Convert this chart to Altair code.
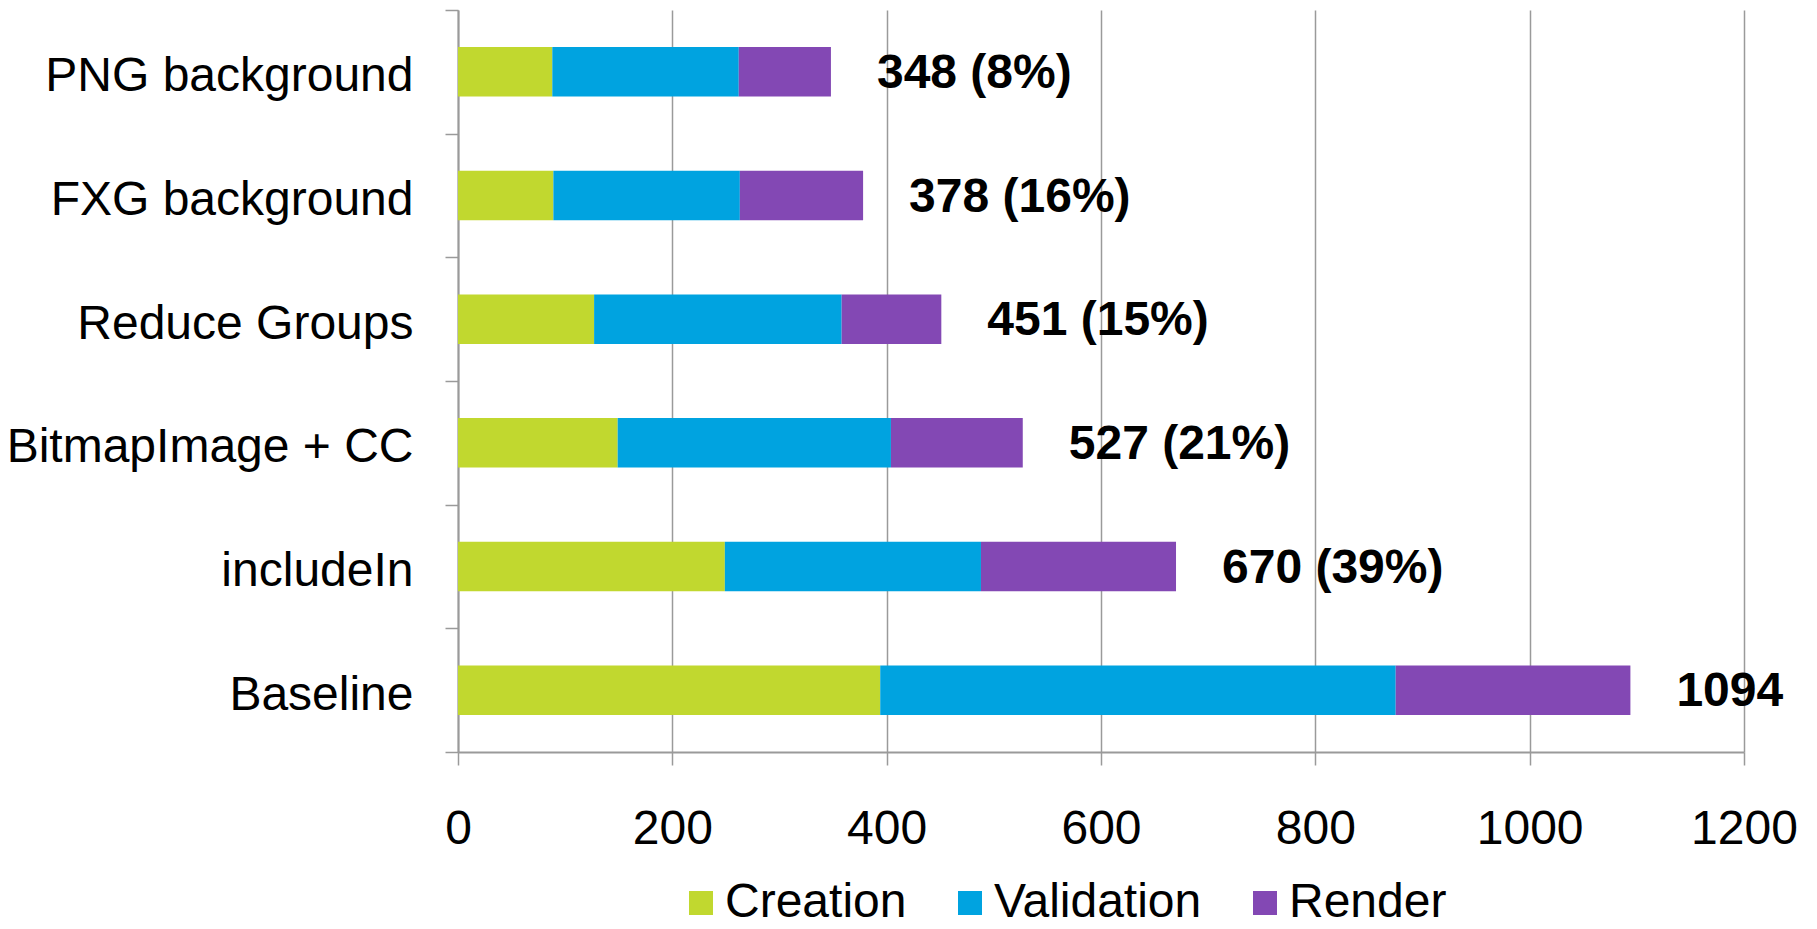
import altair as alt
import pandas as pd

categories = ["PNG background", "FXG background", "Reduce Groups",
              "BitmapImage + CC", "includeIn", "Baseline"]
phases = ["Creation", "Validation", "Render"]
creation = [88, 89, 127, 149, 249, 394]
validation = [174, 174, 231, 255, 239, 481]
render = [86, 115, 93, 123, 182, 219]
totals = [348, 378, 451, 527, 670, 1094]
total_labels = ["348 (8%)", "378 (16%)", "451 (15%)", "527 (21%)", "670 (39%)", "1094"]
x_ticks = [0, 200, 400, 600, 800, 1000, 1200]
colors = ["#C1D82F", "#00A3E0", "#8348B4"]

rows = []
for i, c in enumerate(categories):
    for j, (p, vals) in enumerate(zip(phases, [creation, validation, render])):
        rows.append({"category": c, "phase": p, "value": vals[i], "ord": j})
df = pd.DataFrame(rows)
df_tot = pd.DataFrame({"category": categories, "total": totals, "label": total_labels})

FONT = "Liberation Sans"
GRID = "#9a9a9a"

y_enc = alt.Y("category:N", sort=categories,
              scale=alt.Scale(paddingInner=0, paddingOuter=0),
              axis=alt.Axis(title=None, tickBand="extent", tickSize=13, tickWidth=1.5,
                            tickColor=GRID, domainColor=GRID, domainWidth=2,
                            labelFontSize=48, labelFont=FONT, labelColor="black",
                            labelPadding=32, labelOffset=5, labelLimit=600, grid=False))

x_scale = alt.Scale(domain=[0, 1200], nice=False)

bars = alt.Chart(df).mark_bar(height={"band": 0.4}, strokeWidth=0).encode(
    y=y_enc,
    x=alt.X("value:Q", stack="zero", scale=x_scale,
            axis=alt.Axis(title=None, values=x_ticks, format="d", grid=True, gridColor=GRID,
                          gridWidth=1.5, domainColor=GRID, domainWidth=2, tickColor=GRID,
                          tickWidth=1.5, tickSize=13, labelFontSize=48, labelFont=FONT,
                          labelColor="black", labelPadding=40, labelFlush=False,
                          labelOverlap=False)),
    color=alt.Color("phase:N", sort=phases,
                    scale=alt.Scale(domain=phases, range=colors),
                    legend=alt.Legend(title=None, orient="none", direction="horizontal",
                                      legendX=219, legendY=869, padding=0,
                                      symbolType="square", symbolSize=576, symbolStrokeWidth=0,
                                      labelFontSize=48, labelFont=FONT, labelColor="black",
                                      labelOffset=0, columnPadding=39, labelLimit=600)),
    order=alt.Order("ord:Q"),
)

labels = alt.Chart(df_tot).mark_text(align="left", baseline="middle", dx=46, dy=2,
                                     fontSize=48, fontWeight="bold", font=FONT,
                                     color="black").encode(
    y=alt.Y("category:N", sort=categories),
    x=alt.X("total:Q", scale=x_scale),
    text="label:N",
)

chart = alt.layer(bars, labels).properties(
    width=1286, height=742,
    autosize=alt.AutoSizeParams(type="none"),
    padding={"left": 450, "top": 2, "right": 60, "bottom": 169},
).configure_view(stroke=None)

chart.save("out.html", embed_options={"renderer": "svg", "actions": False})
